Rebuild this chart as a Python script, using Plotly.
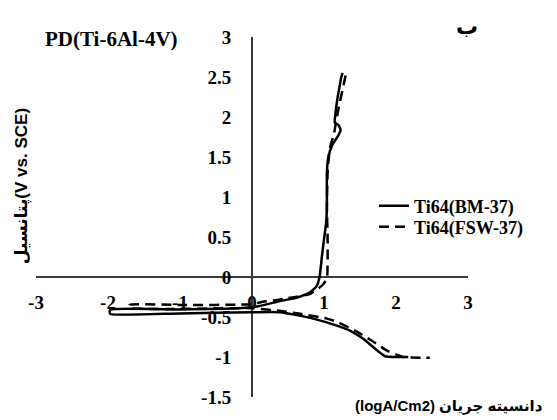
import plotly.graph_objects as go

# Potentiodynamic polarization of Ti-6Al-4V: log current density vs potential
# Ti64(BM-37): anodic branch (from the left end up to the transpassive region)
bm_anodic_x = [-1.97, -1.0, -0.3, 0.07, 0.39, 0.62, 0.81, 0.90, 0.94, 0.97, 1.00, 1.03, 1.04,
               1.04, 1.04, 1.06, 1.12, 1.20, 1.23, 1.20, 1.15, 1.16, 1.19, 1.22, 1.24, 1.26]
bm_anodic_y = [-0.41, -0.405, -0.395, -0.37, -0.30, -0.26, -0.19, -0.11, 0.01, 0.25, 0.47, 0.68, 0.88,
               1.09, 1.30, 1.50, 1.66, 1.77, 1.84, 1.90, 1.93, 2.05, 2.25, 2.40, 2.50, 2.55]
# Ti64(BM-37): cathodic branch
bm_cathodic_x = [-1.97, -1.0, 0.0, 0.39, 0.85, 1.22, 1.36, 1.54, 1.74, 1.85, 2.01, 2.17]
bm_cathodic_y = [-0.46, -0.455, -0.44, -0.44, -0.52, -0.62, -0.67, -0.77, -0.92, -0.99, -1.00, -1.00]

# Ti64(FSW-37): anodic branch
fsw_anodic_x = [-1.70, -1.0, 0.0, 0.15, 0.39, 0.81, 0.98, 1.04, 1.05, 1.05, 1.04, 1.05,
                1.08, 1.14, 1.20, 1.26, 1.30]
fsw_anodic_y = [-0.35, -0.35, -0.34, -0.31, -0.28, -0.21, -0.10, -0.02, 0.19, 0.50, 0.90, 1.30,
                1.60, 1.80, 2.10, 2.35, 2.52]
# Ti64(FSW-37): cathodic branch
fsw_cathodic_x = [-1.70, 0.0, 0.35, 0.67, 1.04, 1.18, 1.43, 1.67, 1.875, 2.10, 2.47]
fsw_cathodic_y = [-0.385, -0.39, -0.42, -0.46, -0.52, -0.56, -0.67, -0.80, -0.92, -1.00, -1.01]

x_ticks = [-3, -2, -1, 0, 1, 2, 3]
x_tick_labels = ["-3", "-2", "-1", "0", "1", "2", "3"]
y_ticks = [-1.5, -1, -0.5, 0, 0.5, 1, 1.5, 2, 2.5, 3]
y_tick_labels = ["-1.5", "-1", "-0.5", "0", "0.5", "1", "1.5", "2", "2.5", "3"]

series_names = ["Ti64(BM-37)", "Ti64(FSW-37)"]

W, H = 557, 420
ML, MR, MT, MB = 36, 89, 37, 21
PW, PH = W - ML - MR, H - MT - MB


def px_to_paper(px, py):
    return (px - ML) / PW, (H - MB - py) / PH


serif = "Liberation Serif, Times New Roman, serif"
sans = "Liberation Sans, Arial, DejaVu Sans, sans-serif"
arabic = "DejaVu Sans, Noto Sans, sans-serif"

# each curve is one polyline: anodic branch reversed, then cathodic branch
bm_x = bm_anodic_x[::-1] + bm_cathodic_x
bm_y = bm_anodic_y[::-1] + bm_cathodic_y
fsw_x = fsw_anodic_x[::-1] + fsw_cathodic_x
fsw_y = fsw_anodic_y[::-1] + fsw_cathodic_y

fig = go.Figure()
fig.add_trace(go.Scatter(
    x=bm_x, y=bm_y, mode="lines", name=series_names[0], legend="legend",
    line=dict(color="black", width=2.5, shape="spline", smoothing=0.5),
))
fig.add_trace(go.Scatter(
    x=fsw_x, y=fsw_y, mode="lines", name=series_names[1], legend="legend2",
    line=dict(color="black", width=2.5, dash="10px,6px", shape="spline", smoothing=0.5),
))

axis_line = "#3a3a3a"
tick_font = dict(family=serif, size=19, color="black", weight="bold")

lx, ly1 = px_to_paper(374, 207)
_, ly2 = px_to_paper(374, 228)
legend_style = dict(
    font=dict(family=serif, size=18, color="black", weight="bold"),
    bgcolor="rgba(0,0,0,0)", borderwidth=0, itemwidth=30,
    xanchor="left", yanchor="middle", x=lx,
)

tx, ty = px_to_paper(111, 39)
bx, by = px_to_paper(467, 26)
yx, yy = px_to_paper(22, 187)
xsplit, xy = px_to_paper(437, 408)

fig.update_layout(
    width=W, height=H,
    margin=dict(l=ML, r=MR, t=MT, b=MB, pad=0),
    paper_bgcolor="white", plot_bgcolor="white",
    showlegend=True,
    legend=dict(legend_style, y=ly1),
    legend2=dict(legend_style, y=ly2),
    xaxis=dict(
        range=[-3, 3], tickvals=x_ticks, ticktext=x_tick_labels,
        showgrid=False, zeroline=False, showline=True,
        linecolor=axis_line, linewidth=2, ticks="",
        anchor="free", position=1 / 3, ticklabelstandoff=8,
        tickfont=tick_font, layer="below traces",
    ),
    yaxis=dict(
        range=[-1.5, 3], tickvals=y_ticks, ticktext=y_tick_labels,
        showgrid=False, zeroline=False, showline=True,
        linecolor=axis_line, linewidth=2, ticks="",
        anchor="free", position=0.5, ticklabelstandoff=16,
        tickfont=tick_font, layer="below traces",
    ),
    annotations=[
        dict(text="PD(Ti-6Al-4V)", x=tx, y=ty, xref="paper", yref="paper",
             xanchor="center", yanchor="middle", showarrow=False,
             font=dict(family=serif, size=21, color="black", weight="bold")),
        dict(text="ب", x=bx, y=by, xref="paper", yref="paper",
             xanchor="center", yanchor="middle", showarrow=False,
             font=dict(family=arabic, size=22, color="black", weight="bold")),
        dict(text="پتانسیل(V vs. SCE)", x=yx, y=yy, xref="paper", yref="paper",
             xanchor="center", yanchor="middle", showarrow=False, textangle=-90,
             font=dict(family=sans, size=17, color="black", weight="bold")),
        # x-axis title: unit on the left, Persian caption on the right
        dict(text="(logA/Cm2)", x=xsplit, y=xy, xref="paper", yref="paper",
             xanchor="right", yanchor="middle", showarrow=False,
             font=dict(family=sans, size=15, color="black", weight="bold")),
        dict(text="دانسیته جریان", x=xsplit, y=xy, xref="paper", yref="paper",
             xanchor="left", yanchor="middle", showarrow=False,
             font=dict(family=sans, size=15, color="black", weight="bold")),
    ],
)

fig.write_html("out.html")
